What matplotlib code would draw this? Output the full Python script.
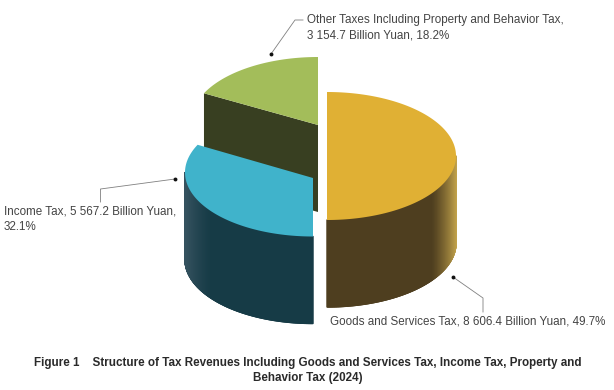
import numpy as np
import matplotlib
matplotlib.use("Agg")
import matplotlib.pyplot as plt
from matplotlib.collections import PolyCollection
from matplotlib.colors import to_rgb

# ---- data ----
categories = ["Goods and Services Tax", "Income Tax", "Other Taxes Including Property and Behavior Tax"]
values = [8606.4, 5567.2, 3154.7]
shares = [49.7, 32.1, 18.2]

labels = [
    "Goods and Services Tax, 8 606.4 Billion Yuan, 49.7%",
    "Income Tax, 5 567.2 Billion Yuan,\n32.1%",
    "Other Taxes Including Property and Behavior Tax,\n3 154.7 Billion Yuan, 18.2%",
]
caption = ("Figure 1    Structure of Tax Revenues Including Goods and Services Tax, Income Tax, Property and\n"
           "Behavior Tax (2024)")

plt.rcParams["font.family"] = ["Liberation Sans", "DejaVu Sans"]

fig = plt.figure(figsize=(6.14, 3.9), dpi=100)
ax = fig.add_axes([0, 0, 1, 1])
ax.set_xlim(0, 614)
ax.set_ylim(390, 0)
ax.axis("off")

RY, H = 64, 87
# ellipse centre, apex, horizontal radius per wedge
geom = [
    dict(c=(327, 156), a=(327, 156), rx=129, top="#e0b034", side="#4e3e1f", hi="#c4a44c"),
    dict(c=(313, 172.5), a=(313, 178), rx=128, top="#40b3cb", side="#163b46", hi="#35525f"),
    dict(c=(318, 121), a=(318, 125), rx=126.5, top="#a3bd5a", side="#383f21", hi="#383f21"),
]

total = sum(values)
edges = np.cumsum([0] + values) / total * 2 * np.pi
# the picture's split between the first two wedges is drawn vertical
rot = np.pi - edges[1]
edges = np.minimum(edges + rot, 2 * np.pi)
edges[0] = 0


def arc(g, t0, t1, n=200):
    t = np.linspace(t0, t1, n)
    return g["c"][0] + g["rx"] * np.sin(t), g["c"][1] - RY * np.cos(t)


def draw_side(g, t0, t1, z):
    """outer wall with horizontal shading"""
    x, y = arc(g, t0, t1, 300)
    polys, cols = [], []
    c0, c1 = np.array(to_rgb(g["side"])), np.array(to_rgb(g["hi"]))
    for i in range(len(x) - 1):
        polys.append([(x[i], y[i]), (x[i + 1], y[i + 1]), (x[i + 1], y[i + 1] + H), (x[i], y[i] + H)])
        d = abs(0.5 * (x[i] + x[i + 1]) - g["c"][0]) / g["rx"]
        f = np.clip((d - 0.8) / 0.2, 0, 1) ** 1.3
        cols.append(c0 + (c1 - c0) * f)
    ax.add_collection(PolyCollection(polys, facecolors=cols, edgecolors=cols, linewidths=1.0, zorder=z))


# green wedge (back), inner wall then top
g = geom[2]
x, y = arc(g, edges[2], edges[3])
ax.fill([x[0], g["a"][0], g["a"][0], x[0]], [y[0], g["a"][1], g["a"][1] + H, y[0] + H],
        color=g["side"], lw=0, zorder=1)
ax.fill(np.r_[g["a"][0], x], np.r_[g["a"][1], y], color=g["top"], lw=0, zorder=2)

# blue wedge
g = geom[1]
x, y = arc(g, edges[1], edges[2])
draw_side(g, edges[1], np.deg2rad(270), 3)
ax.fill(np.r_[g["a"][0], x], np.r_[g["a"][1], y], color=g["top"], lw=0, zorder=4)

# gold wedge
g = geom[0]
x, y = arc(g, edges[0], edges[1])
draw_side(g, np.deg2rad(90), edges[1], 3)
ax.fill(np.r_[g["a"][0], x], np.r_[g["a"][1], y], color=g["top"], lw=0, zorder=4)

# leader lines
leaders = [
    ([453, 483, 483], [277, 298, 312], (453, 277)),
    ([175, 100.5, 100.5], [179, 189, 202], (175, 179)),
    ([271, 295, 303], [54, 20, 20], (271, 54)),
]
for lx, ly, dot in leaders:
    ax.plot(lx, ly, color="#808080", lw=0.6, zorder=5)
    ax.plot(*dot, "o", color="#111111", ms=2.8, mew=0, zorder=6)

# labels
tc = "#444444"
fs = 8.4
ax.text(330, 322, labels[0], fontsize=fs, color=tc, va="center", ha="left")
ax.text(4, 219, labels[1], fontsize=fs, color=tc, va="center", ha="left", linespacing=1.35)
ax.text(307, 27.5, labels[2], fontsize=fs, color=tc, va="center", ha="left", linespacing=1.35)
ax.text(308, 370.5, caption, fontsize=8.33, fontweight="bold", color="#2a2a2a",
        va="center", ha="center", linespacing=1.4)

fig.savefig("out.png", dpi=100)
